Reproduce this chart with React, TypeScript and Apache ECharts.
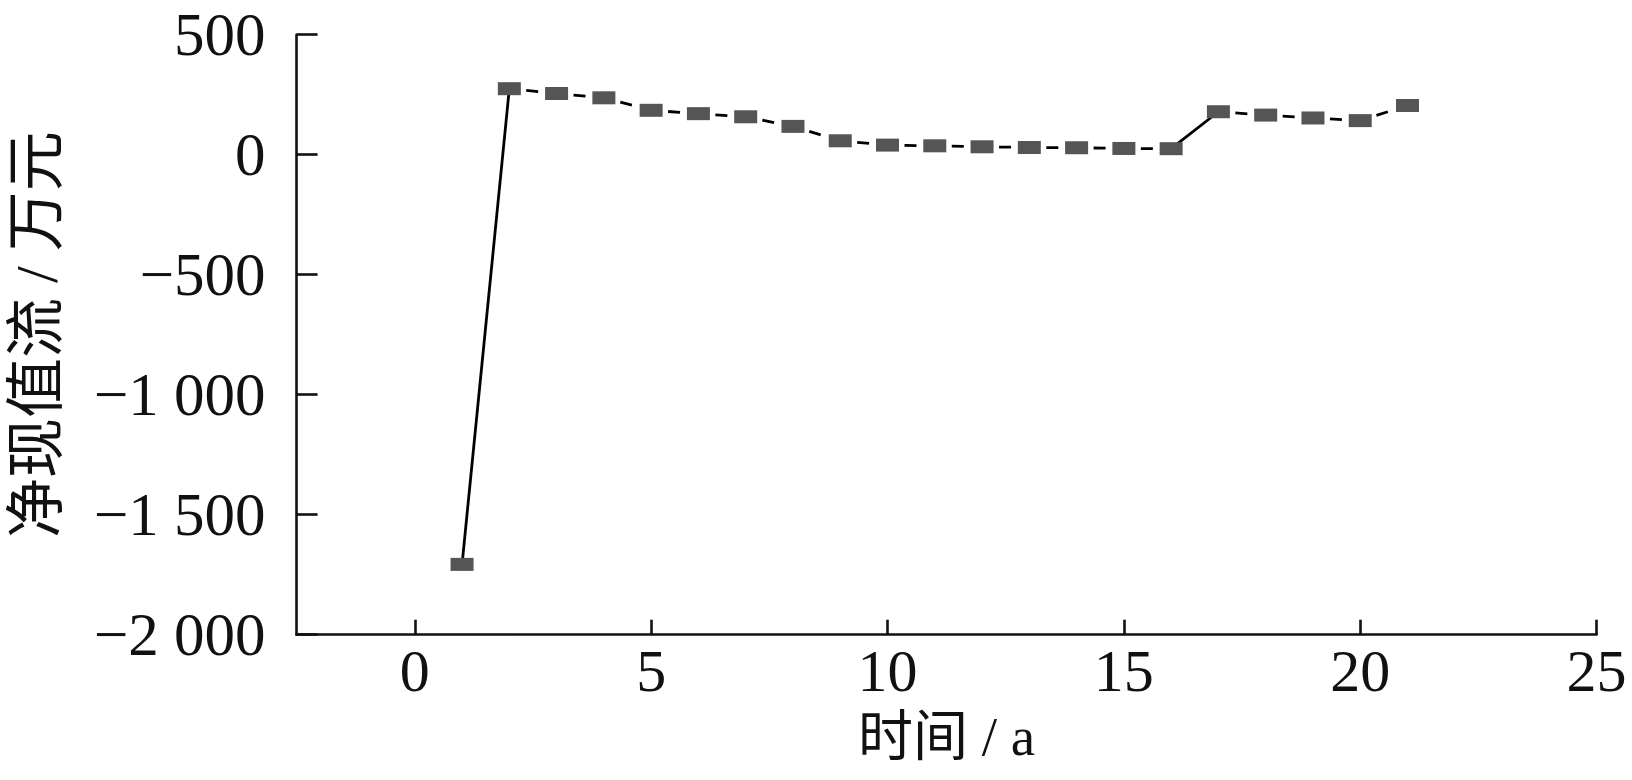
import React, { useEffect, useRef } from "react";
import * as echarts from "echarts";

// Data
const years = [1, 2, 3, 4, 5, 6, 7, 8, 9, 10, 11, 12, 13, 14, 15, 16, 17, 18, 19, 20, 21];
const netPresentValue = [
  -1707, 275, 255, 237, 185, 171, 158, 118, 58, 40, 37, 33, 30, 29, 26, 25, 179, 165, 153, 142, 205,
];
// segments (index of starting point) drawn with a solid line; all others dashed
const solidSegmentStarts = [0, 15];
const xTickValues = [0, 5, 10, 15, 20, 25];

const serif = '"Liberation Serif", "Noto Sans CJK SC", serif';

function formatY(v: number): string {
  const abs = Math.abs(v);
  const s = abs >= 1000 ? `${Math.floor(abs / 1000)} ${String(abs % 1000).padStart(3, "0")}` : String(abs);
  return v < 0 ? `\u2212${s}` : s;
}

export default function App() {
  const ref = useRef<HTMLDivElement>(null);

  useEffect(() => {
    if (!ref.current) return;
    const chart = echarts.init(ref.current, undefined, { renderer: "svg" });

    const segmentSeries = years.slice(0, -1).map((x, i) => ({
      type: "line" as const,
      data: [
        [x, netPresentValue[i]],
        [years[i + 1], netPresentValue[i + 1]],
      ],
      symbol: "none",
      silent: true,
      z: 2,
      lineStyle: {
        color: "#000",
        width: 2.8,
        type: solidSegmentStarts.includes(i) ? "solid" : [0, 17, 12, 1000],
      },
    }));

    chart.setOption({
      animation: false,
      backgroundColor: "#fff",
      grid: {
        left: 296.6,
        right: 35.4,
        top: 34.7,
        bottom: 145.3,
        containLabel: false,
        outerBoundsMode: "none",
      },
      xAxis: {
        type: "value",
        min: -2.5,
        max: 25,
        name: "时间 / a",
        nameLocation: "middle",
        nameGap: 74,
        nameTextStyle: { fontFamily: serif, fontSize: 55, color: "#111" },
        axisLine: { show: true, onZero: false, lineStyle: { color: "#111", width: 2.6 } },
        axisTick: {
          show: true,
          inside: true,
          length: 15,
          customValues: xTickValues,
          lineStyle: { color: "#111", width: 2.6 },
        },
        axisLabel: {
          customValues: xTickValues,
          fontFamily: serif,
          fontSize: 60,
          color: "#111",
          margin: 6,
        },
        splitLine: { show: false },
      },
      yAxis: {
        type: "value",
        min: -2000,
        max: 500,
        interval: 500,
        name: "净现值流 / 万元",
        nameLocation: "middle",
        nameGap: 230,
        nameTextStyle: { fontFamily: serif, fontSize: 60, color: "#111" },
        axisLine: { show: true, onZero: false, lineStyle: { color: "#111", width: 2.6 } },
        axisTick: { show: true, inside: true, length: 21, lineStyle: { color: "#111", width: 2.6 } },
        axisLabel: {
          fontFamily: serif,
          fontSize: 61,
          color: "#111",
          margin: 31,
          formatter: (v: number) => formatY(v),
        },
        splitLine: { show: false },
      },
      series: [
        ...segmentSeries,
        {
          type: "scatter",
          data: years.map((x, i) => [x, netPresentValue[i]]),
          symbol: "rect",
          symbolSize: [23, 13],
          z: 3,
          itemStyle: { color: "#555555", opacity: 1 },
        },
      ],
    });

    return () => chart.dispose();
  }, []);

  return (
    <div
      ref={ref}
      style={{ position: "fixed", left: 0, top: 0, width: 1632, height: 780, background: "#fff" }}
    />
  );
}
